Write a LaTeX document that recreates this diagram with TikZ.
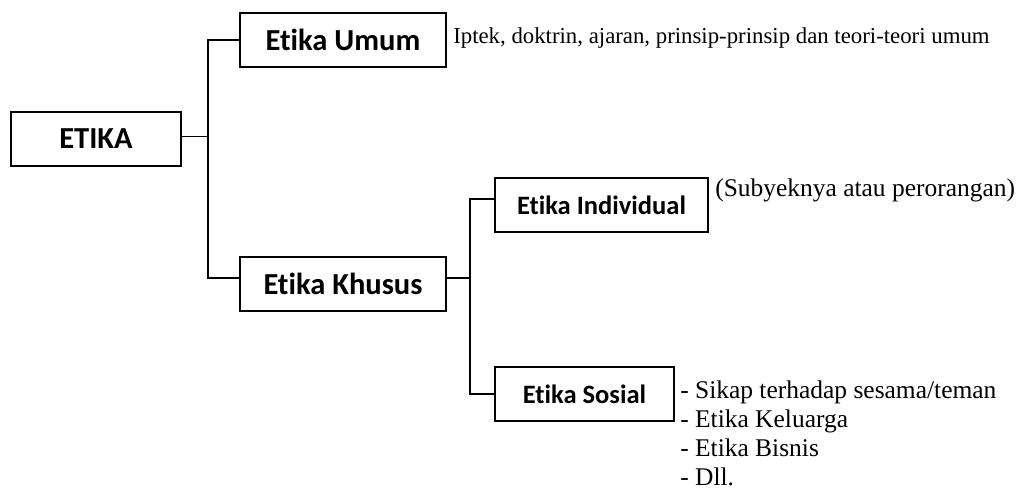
\documentclass[tikz,border=0pt]{standalone}
\usepackage{fontspec}
\setmainfont{Liberation Serif}
\newfontfamily\boxfont[Ligatures={NoCommon}]{Carlito}
\usetikzlibrary{positioning,calc}
\definecolor{etink}{RGB}{0,0,0}

\begin{document}
\begin{tikzpicture}[
  x=0.75pt, y=-0.75pt,
  box/.style={draw=etink, line width=1.2pt, fill=white, align=center,
    inner sep=0pt, minimum height=40.5pt},
  lvlA/.style={box, font=\boxfont\bfseries\fontsize{22.9}{27}\selectfont},
  lvlB/.style={box, font=\boxfont\bfseries\fontsize{19.9}{24}\selectfont},
  note/.style={inner sep=0pt, align=left, font=\fontsize{19.1}{21.6}\selectfont},
  link/.style={etink, line width=1.1pt}
]
\useasboundingbox (0,0) rectangle (1025,491);

% kotak utama
\node[lvlA, minimum width=127.5pt] (etika) at (96,139) {ETIKA};
\node[lvlA, minimum width=154.5pt] (umum) at (343,40) {Etika Umum};
\node[lvlA, minimum width=154.5pt] (khusus) at (343,284) {Etika Khusus};
\node[lvlB, minimum width=159.75pt] (indiv) at (601.5,205) {Etika Individual};
\node[lvlB, minimum width=134.25pt] (sosial) at (584.5,394) {Etika Sosial};

% keterangan
\node[note, anchor=base west, font=\fontsize{17.1}{20}\selectfont] (ketumum) at (453,44)
  {Iptek, doktrin, ajaran, prinsip-prinsip dan teori-teori umum};
\node[note, anchor=base west] (ketindiv) at (715,197) {(Subyeknya atau perorangan)};
\node[note, anchor=north west] (ketsosial) at (680,381)
  {- Sikap terhadap sesama/teman\\- Etika Keluarga\\- Etika Bisnis\\- Dll.};

% garis penghubung
\coordinate (j1) at (208,150);
\coordinate (j2) at (470,300);
\draw[link] ([yshift=2pt]etika.east) -- ([yshift=2pt]etika.east -| j1);
\draw[link] (umum.west) -| (j1) |- ([yshift=4.5pt]khusus.west);
\draw[link] ([yshift=4.5pt]khusus.east) -- ([yshift=4.5pt]khusus.east -| j2);
\draw[link] ([yshift=4.5pt]indiv.west) -| (j2) |- (sosial.west);
\end{tikzpicture}
\end{document}
